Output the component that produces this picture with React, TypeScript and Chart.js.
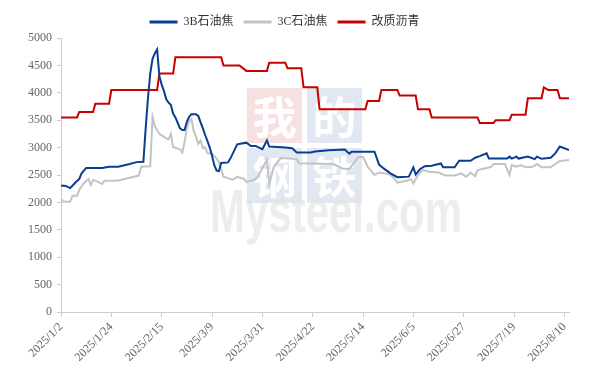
import { useEffect, useRef } from "react";
import { Chart, registerables } from "chart.js";

Chart.register(...registerables);

// x positions are days counted from 2025/1/2
const tickLabels = [
  "2025/1/2", "2025/1/24", "2025/2/15", "2025/3/9", "2025/3/31", "2025/4/22",
  "2025/5/14", "2025/6/5", "2025/6/27", "2025/7/19", "2025/8/10",
];
const tickStepDays = 22;
const lastDay = 222;

const seriesNames = ["3B石油焦", "3C石油焦", "改质沥青"];
const seriesColors = ["#0a3d91", "#c3c3c3", "#c80000"];

const b3Days = [0, 2, 4, 6, 8, 9, 11, 18, 21, 25, 30, 33, 36, 37, 38, 39, 40, 41, 42, 43, 44, 45, 46, 47, 48, 49, 50, 51, 52, 53, 54, 55, 56, 57, 59, 60, 61, 62, 63, 64, 65, 66, 67, 68, 69, 70, 73, 74, 77, 81, 83, 85, 88, 90, 91, 98, 101, 103, 109, 111, 117, 124, 126, 127, 137, 139, 141, 144, 147, 152, 154, 155, 157, 159, 162, 166, 167, 172, 174, 179, 181, 183, 186, 187, 195, 196, 197, 199, 200, 204, 207, 208, 210, 214, 216, 218, 222];
const b3Values = [2310, 2300, 2260, 2350, 2430, 2530, 2630, 2630, 2650, 2650, 2700, 2735, 2740, 3350, 3900, 4350, 4620, 4720, 4790, 4300, 4150, 4030, 3880, 3820, 3780, 3620, 3550, 3450, 3350, 3320, 3320, 3470, 3560, 3610, 3610, 3580, 3460, 3350, 3230, 3120, 3000, 2850, 2680, 2580, 2570, 2720, 2730, 2800, 3060, 3090, 3030, 3030, 2970, 3130, 3020, 3000, 2990, 2910, 2910, 2930, 2950, 2965, 2890, 2925, 2925, 2690, 2620, 2530, 2460, 2470, 2640, 2510, 2610, 2660, 2670, 2710, 2640, 2640, 2760, 2760, 2815, 2845, 2895, 2800, 2800, 2835, 2800, 2835, 2800, 2835, 2790, 2835, 2795, 2815, 2895, 3020, 2955];

const c3Days = [0, 1, 4, 5, 7, 8, 10, 12, 13, 14, 16, 18, 19, 25, 30, 34, 35, 39, 40, 41, 43, 46, 47, 48, 49, 52, 53, 54, 55, 56, 57, 58, 59, 60, 61, 62, 63, 64, 66, 68, 69, 71, 74, 75, 77, 80, 81, 85, 86, 90, 91, 93, 96, 103, 104, 119, 123, 126, 130, 132, 134, 137, 139, 143, 145, 147, 151, 153, 154, 156, 158, 161, 165, 168, 172, 175, 177, 179, 181, 182, 185, 188, 189, 194, 196, 197, 199, 201, 203, 206, 208, 210, 214, 216, 218, 222];
const c3Values = [2070, 2010, 2010, 2120, 2120, 2230, 2350, 2430, 2320, 2410, 2380, 2335, 2395, 2400, 2450, 2490, 2650, 2660, 3560, 3390, 3250, 3170, 3150, 3250, 3010, 2970, 2910, 3100, 3350, 3480, 3520, 3300, 3200, 3070, 3130, 2990, 3010, 2900, 2890, 2800, 2740, 2470, 2430, 2410, 2465, 2430, 2375, 2420, 2470, 2780, 2335, 2650, 2810, 2790, 2715, 2700, 2620, 2610, 2830, 2830, 2650, 2500, 2545, 2520, 2470, 2360, 2395, 2420, 2345, 2500, 2590, 2560, 2545, 2490, 2490, 2530, 2470, 2540, 2480, 2590, 2620, 2650, 2700, 2700, 2500, 2680, 2650, 2680, 2640, 2650, 2700, 2640, 2640, 2700, 2755, 2775];

const pitchDays = [0, 7, 8, 14, 15, 21, 22, 42, 43, 49, 50, 70, 71, 78, 81, 90, 91, 98, 99, 105, 106, 112, 113, 133, 134, 139, 140, 147, 148, 155, 156, 161, 162, 182, 183, 189, 190, 196, 197, 203, 204, 210, 211, 213, 217, 218, 222];
const pitchValues = [3550, 3550, 3650, 3650, 3800, 3800, 4050, 4050, 4350, 4350, 4650, 4650, 4500, 4500, 4400, 4400, 4550, 4550, 4450, 4450, 4100, 4100, 3700, 3700, 3850, 3850, 4050, 4050, 3950, 3950, 3700, 3700, 3550, 3550, 3450, 3450, 3500, 3500, 3600, 3600, 3900, 3900, 4100, 4050, 4050, 3900, 3900];

const yMin = 0;
const yMax = 5000;
const yStep = 500;

const FONT = '"Liberation Serif", "Noto Sans CJK SC", serif';

const toPoints = (days: number[], values: number[]) =>
  days.map((d, i) => ({ x: d, y: values[i] }));

const watermarkPlugin = {
  id: "watermark",
  beforeDatasetsDraw(chart: any) {
    const ctx = chart.ctx as CanvasRenderingContext2D;
    ctx.save();
    const squares: [number, number, string, string][] = [
      [247, 88, "#f7e0e2", "我"],
      [307, 88, "#e2e8f1", "的"],
      [247, 148, "#e2e8f1", "钢"],
      [307, 148, "#e2e8f1", "铁"],
    ];
    for (const [x, y, c, ch] of squares) {
      ctx.fillStyle = c;
      ctx.fillRect(x, y, 55, 55);
      ctx.fillStyle = "#ffffff";
      ctx.font = 'bold 44px "Noto Sans CJK SC"';
      ctx.textAlign = "center";
      ctx.textBaseline = "middle";
      ctx.fillText(ch, x + 27.5, y + 29);
    }
    ctx.fillStyle = "rgba(225,225,225,0.6)";
    ctx.font = 'bold 62px "Liberation Sans"';
    ctx.textAlign = "left";
    ctx.textBaseline = "alphabetic";
    ctx.fillText("Mysteel.com", 210, 232, 252);
    ctx.restore();
  },
};

export default function App() {
  const ref = useRef<HTMLCanvasElement>(null);
  useEffect(() => {
    document.body.style.margin = "0";
    const canvas = ref.current;
    if (!canvas) return;
    const chart = new Chart(canvas, {
      type: "line",
      data: {
        datasets: [
          { label: seriesNames[0], data: toPoints(b3Days, b3Values) },
          { label: seriesNames[1], data: toPoints(c3Days, c3Values) },
          { label: seriesNames[2], data: toPoints(pitchDays, pitchValues) },
        ].map((ds, i) => ({
          ...ds,
          borderColor: seriesColors[i],
          backgroundColor: seriesColors[i],
          borderWidth: 2,
          pointRadius: 0,
          tension: 0,
          fill: false,
        })) as any,
      },
      plugins: [watermarkPlugin],
      options: {
        animation: false,
        responsive: false,
        maintainAspectRatio: false,
        layout: { padding: { left: 0, right: 26, top: 6, bottom: 0 } },
        plugins: {
          legend: {
            position: "top",
            labels: {
              boxWidth: 28,
              boxHeight: 3,
              padding: 10,
              color: "#333",
              font: { family: FONT, size: 12 },
              generateLabels: (c: any) =>
                Chart.defaults.plugins.legend.labels
                  .generateLabels(c)
                  .map((l: any) => ({ ...l, lineWidth: 0, fillStyle: l.strokeStyle })),
            },
          },
          tooltip: { enabled: false },
        },
        scales: {
          x: {
            type: "linear",
            min: 0,
            max: lastDay,
            afterBuildTicks: (scale: any) => {
              scale.ticks = tickLabels.map((_, i) => ({ value: i * tickStepDays }));
            },
            afterFit: (scale: any) => {
              scale.height = 63;
            },
            grid: { drawOnChartArea: false, color: "#cccccc", tickLength: 5 },
            border: { color: "#cccccc" },
            ticks: {
              autoSkip: false,
              minRotation: 45,
              maxRotation: 45,
              color: "#666",
              font: { family: FONT, size: 12 },
              callback: (v: any) => tickLabels[Math.round(Number(v) / tickStepDays)] ?? "",
            },
          },
          y: {
            min: yMin,
            max: yMax,
            afterFit: (scale: any) => {
              scale.width = 61;
            },
            grid: { drawOnChartArea: false, color: "#cccccc", tickLength: 4 },
            border: { color: "#cccccc" },
            ticks: {
              stepSize: yStep,
              color: "#666",
              padding: 5,
              font: { family: FONT, size: 12 },
              callback: (v: any) => String(v),
            },
          },
        },
      } as any,
    });
    return () => chart.destroy();
  }, []);
  return (
    <div style={{ width: 595, height: 375 }}>
      <canvas ref={ref} width={595} height={375} style={{ display: "block" }} />
    </div>
  );
}
